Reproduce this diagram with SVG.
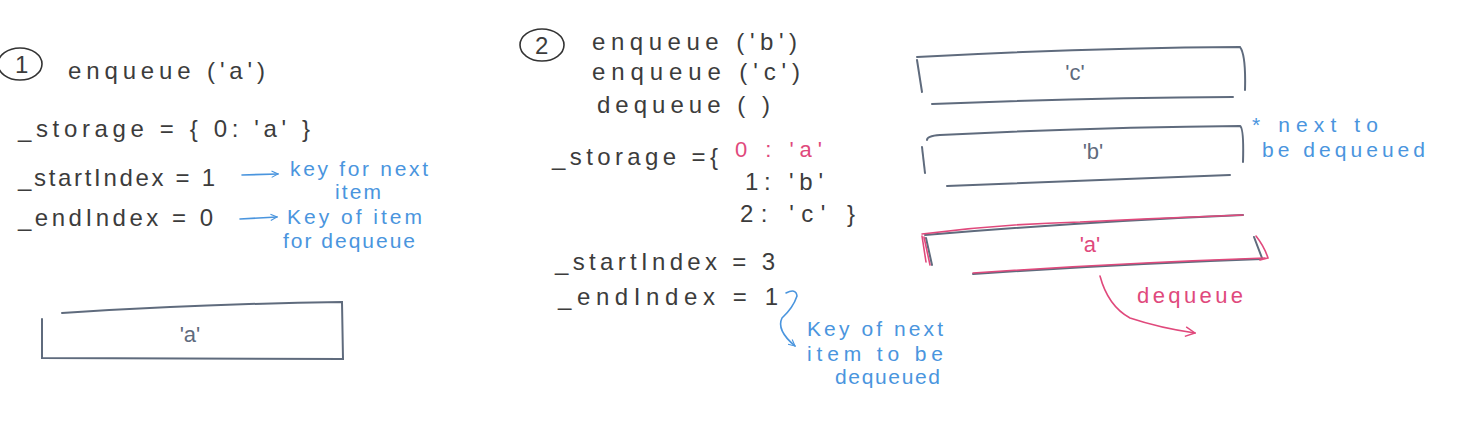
<svg xmlns="http://www.w3.org/2000/svg" width="1463" height="432" viewBox="0 0 1463 432">
<style>
  .t{font-family:"Liberation Sans","DejaVu Sans",sans-serif;fill:#3c3c3c;font-size:24px;}
  .g{font-family:"Liberation Sans","DejaVu Sans",sans-serif;fill:#5f6b7d;font-size:22px;}
  .b{font-family:"Liberation Sans","DejaVu Sans",sans-serif;fill:#4a95de;font-size:21px;}
  .p{font-family:"Liberation Sans","DejaVu Sans",sans-serif;fill:#e0497c;font-size:22px;}
  .box{fill:none;stroke:#5f6b7d;stroke-width:2;stroke-linecap:round;}
  .pbox{fill:none;stroke:#e0497c;stroke-width:1.6;stroke-linecap:round;}
  .circ{fill:none;stroke:#333;stroke-width:1.6;}
  .ba{fill:none;stroke:#4a95de;stroke-width:1.6;stroke-linecap:round;}
  .pa{fill:none;stroke:#e0497c;stroke-width:1.6;stroke-linecap:round;}
</style>
<defs>
  <marker id="ab" viewBox="0 0 10 10" refX="9" refY="5" markerWidth="8" markerHeight="8" orient="auto" markerUnits="userSpaceOnUse">
    <path d="M1,1 L9,5 L1,9" fill="none" stroke="#4a95de" stroke-width="1.4"/>
  </marker>
  <marker id="ap" viewBox="0 0 10 10" refX="9" refY="5" markerWidth="12" markerHeight="12" orient="auto" markerUnits="userSpaceOnUse">
    <path d="M1,1 L9,5 L1,9" fill="none" stroke="#e0497c" stroke-width="1.2"/>
  </marker>
</defs>
<rect width="1463" height="432" fill="#ffffff"/>

<g id="step1">
  <ellipse class="circ" cx="20" cy="64" rx="22" ry="16"/>
  <text class="t" x="15" y="73">1</text>
  <text class="t" x="68" y="79" font-size="26" textLength="197" lengthAdjust="spacing">enqueue ('a')</text>
  <text class="t" x="18" y="137" textLength="292" lengthAdjust="spacing">_storage = { 0: 'a' }</text>
  <text class="t" x="18" y="186" textLength="197" lengthAdjust="spacing">_startIndex = 1</text>
  <text class="t" x="18" y="226" textLength="195" lengthAdjust="spacing">_endIndex = 0</text>
  <text class="b" x="290" y="176" textLength="138" lengthAdjust="spacing">key for next</text>
  <text class="b" x="335" y="199" font-size="17" textLength="46" lengthAdjust="spacing">item</text>
  <text class="b" x="287" y="224" textLength="135" lengthAdjust="spacing">Key of item</text>
  <text class="b" x="283" y="248" textLength="132" lengthAdjust="spacing">for dequeue</text>
</g>

<g id="box-a1">
  <path class="box" d="M62,313 Q200,304 342,302 L343,359 L42,358 L42,319"/>
  <text class="g" x="190" y="342" text-anchor="middle">'a'</text>
</g>

<g id="step2">
  <ellipse class="circ" cx="542" cy="45" rx="22" ry="16"/>
  <text class="t" x="535" y="54">2</text>
  <text class="t" x="592" y="50" textLength="205" lengthAdjust="spacing">enqueue ('b')</text>
  <text class="t" x="592" y="80" textLength="208" lengthAdjust="spacing">enqueue ('c')</text>
  <text class="t" x="597" y="113" textLength="173" lengthAdjust="spacing">dequeue   ( )</text>
  <text class="t" x="552" y="165" textLength="166" lengthAdjust="spacing">_storage ={</text>
  <text class="p" x="735" y="157" textLength="87" lengthAdjust="spacing">0 : 'a'</text>
  <text class="t" x="745" y="190" textLength="78" lengthAdjust="spacing">1: 'b'</text>
  <text class="t" x="740" y="222" textLength="115" lengthAdjust="spacing">2: 'c' }</text>
  <text class="t" x="555" y="270" textLength="220" lengthAdjust="spacing">_startIndex = 3</text>
  <text class="t" x="558" y="305" textLength="220" lengthAdjust="spacing">_endIndex = 1</text>
  <text class="b" x="807" y="336" textLength="136" lengthAdjust="spacing">Key of next</text>
  <text class="b" x="807" y="361" textLength="136" lengthAdjust="spacing">item to be</text>
  <text class="b" x="835" y="384" textLength="105" lengthAdjust="spacing">dequeued</text>
</g>

<g id="box-c">
  <path class="box" d="M917,57 Q1080,48 1240,47 Q1246,55 1245,90"/>
  <path class="box" d="M917,60 L922,92"/>
  <path class="box" d="M932,104 Q1080,98 1233,97"/>
  <text class="g" x="1075" y="80" text-anchor="middle">'c'</text>
</g>

<g id="box-b">
  <path class="box" d="M927,140 Q927,136 940,135 Q1100,127 1240,126 Q1244,128 1243,162"/>
  <path class="box" d="M922,147 L925,173"/>
  <path class="box" d="M947,186 Q1100,180 1230,175"/>
  <text class="g" x="1093" y="159" text-anchor="middle">'b'</text>
</g>

<g id="note-b">
  <text class="b" x="1252" y="132" textLength="126" lengthAdjust="spacing">* next to</text>
  <text class="b" x="1262" y="157" textLength="163" lengthAdjust="spacing">be dequeued</text>
</g>

<g id="box-a2">
  <path class="box" d="M925,235 Q1080,222 1243,215"/>
  <path class="box" d="M926,238 L932,265"/>
  <path class="box" d="M1254,237 L1262,258"/>
  <path class="box" d="M973,274 Q1120,264 1262,259"/>
  <path class="pbox" d="M922,234 Q1000,224 1080,222 Q1160,218 1243,215"/>
  <path class="pbox" d="M922,236 L926,262 M924,237 L930,265"/>
  <path class="pbox" d="M1256,236 Q1264,246 1268,258 L1260,260"/>
  <path class="pbox" d="M973,273 Q1120,263 1265,258"/>
  <text class="p" x="1090" y="252" text-anchor="middle">'a'</text>
  <text class="p" x="1137" y="303" textLength="106" lengthAdjust="spacing">dequeue</text>
</g>

<g id="connectors">
  <path class="ba" d="M242,175 L278,174" marker-end="url(#ab)"/>
  <path class="ba" d="M240,219 L277,217" marker-end="url(#ab)"/>
  <path class="ba" d="M786,293 Q796,288 797,296 Q793,308 782,318 Q776,330 795,346" marker-end="url(#ab)"/>
  <path class="pa" d="M1100,276 Q1108,306 1130,318 Q1160,328 1195,333" marker-end="url(#ap)"/>
</g>
</svg>
